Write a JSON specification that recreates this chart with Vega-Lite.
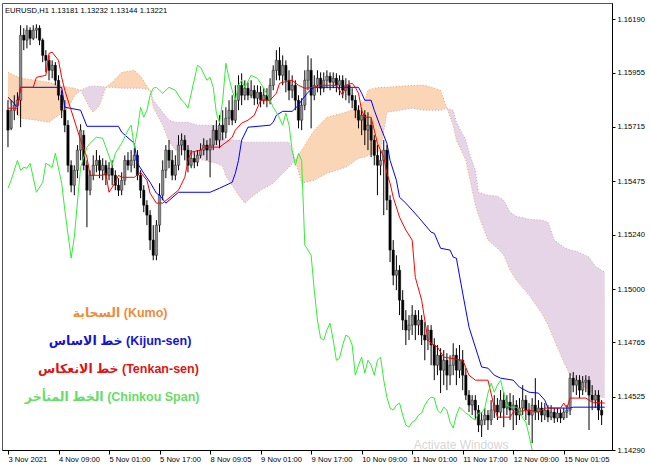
{
"$schema": "https://vega.github.io/schema/vega-lite/v6.json",
"width": 610, "height": 447,
"padding": {"left": 2, "top": 3, "right": 0, "bottom": 0},
"background": "white",
"title": {"text": "EURUSD,H1  1.13181 1.13232 1.13144 1.13221", "anchor": "start", "frame": "group", "offset": -12, "dx": 3, "fontSize": 7.6, "font": "Liberation Sans", "fontWeight": "normal", "color": "black"},
"config": {"view": {"stroke": "#555", "strokeWidth": 1}, "axis": {"grid": false, "labelFont": "Liberation Sans", "labelFontSize": 7.6, "labelColor": "black", "domainColor": "black", "tickColor": "black"}},
"datasets": {
"candles": [
{"i":0,"o":1.15789,"h":1.15833,"l":1.15626,"c":1.15701},
{"i":1,"o":1.15709,"h":1.15833,"l":1.15701,"c":1.15789},
{"i":2,"o":1.15789,"h":1.15855,"l":1.15745,"c":1.15811},
{"i":3,"o":1.15811,"h":1.15868,"l":1.15767,"c":1.15833},
{"i":4,"o":1.15833,"h":1.16164,"l":1.15714,"c":1.16120},
{"i":5,"o":1.16120,"h":1.16151,"l":1.16054,"c":1.16098},
{"i":6,"o":1.16098,"h":1.16164,"l":1.16062,"c":1.16142},
{"i":7,"o":1.16142,"h":1.16155,"l":1.16076,"c":1.16106},
{"i":8,"o":1.16106,"h":1.16164,"l":1.16098,"c":1.16142},
{"i":9,"o":1.16142,"h":1.16168,"l":1.16106,"c":1.16151},
{"i":10,"o":1.16151,"h":1.16164,"l":1.16076,"c":1.16098},
{"i":11,"o":1.16098,"h":1.16106,"l":1.16001,"c":1.16031},
{"i":12,"o":1.16031,"h":1.16054,"l":1.15956,"c":1.16009},
{"i":13,"o":1.16009,"h":1.16031,"l":1.15921,"c":1.15965},
{"i":14,"o":1.15965,"h":1.16009,"l":1.15930,"c":1.15987},
{"i":15,"o":1.15987,"h":1.16001,"l":1.15899,"c":1.15921},
{"i":16,"o":1.15921,"h":1.15943,"l":1.15833,"c":1.15855},
{"i":17,"o":1.15855,"h":1.15877,"l":1.15754,"c":1.15789},
{"i":18,"o":1.15789,"h":1.15833,"l":1.15692,"c":1.15723},
{"i":19,"o":1.15723,"h":1.15745,"l":1.15515,"c":1.15546},
{"i":20,"o":1.15546,"h":1.15568,"l":1.15427,"c":1.15458},
{"i":21,"o":1.15458,"h":1.15546,"l":1.15414,"c":1.15524},
{"i":22,"o":1.15524,"h":1.15635,"l":1.15489,"c":1.15613},
{"i":23,"o":1.15613,"h":1.15727,"l":1.15568,"c":1.15701},
{"i":24,"o":1.15679,"h":1.15701,"l":1.15524,"c":1.15546},
{"i":25,"o":1.15546,"h":1.15568,"l":1.15273,"c":1.15436},
{"i":26,"o":1.15436,"h":1.15524,"l":1.15414,"c":1.15502},
{"i":27,"o":1.15502,"h":1.15590,"l":1.15480,"c":1.15546},
{"i":28,"o":1.15546,"h":1.15613,"l":1.15515,"c":1.15568},
{"i":29,"o":1.15568,"h":1.15590,"l":1.15489,"c":1.15524},
{"i":30,"o":1.15524,"h":1.15577,"l":1.15480,"c":1.15546},
{"i":31,"o":1.15546,"h":1.15568,"l":1.15458,"c":1.15502},
{"i":32,"o":1.15502,"h":1.15560,"l":1.15480,"c":1.15533},
{"i":33,"o":1.15533,"h":1.15568,"l":1.15458,"c":1.15502},
{"i":34,"o":1.15502,"h":1.15524,"l":1.15436,"c":1.15458},
{"i":35,"o":1.15458,"h":1.15489,"l":1.15410,"c":1.15436},
{"i":36,"o":1.15436,"h":1.15515,"l":1.15414,"c":1.15480},
{"i":37,"o":1.15480,"h":1.15590,"l":1.15458,"c":1.15568},
{"i":38,"o":1.15568,"h":1.15604,"l":1.15524,"c":1.15546},
{"i":39,"o":1.15546,"h":1.15613,"l":1.15515,"c":1.15568},
{"i":40,"o":1.15568,"h":1.15621,"l":1.15533,"c":1.15590},
{"i":41,"o":1.15590,"h":1.15613,"l":1.15480,"c":1.15502},
{"i":42,"o":1.15502,"h":1.15524,"l":1.15401,"c":1.15436},
{"i":43,"o":1.15436,"h":1.15458,"l":1.15339,"c":1.15370},
{"i":44,"o":1.15370,"h":1.15392,"l":1.15282,"c":1.15326},
{"i":45,"o":1.15326,"h":1.15348,"l":1.15172,"c":1.15216},
{"i":46,"o":1.15216,"h":1.15282,"l":1.15127,"c":1.15149},
{"i":47,"o":1.15149,"h":1.15304,"l":1.15127,"c":1.15282},
{"i":48,"o":1.15282,"h":1.15467,"l":1.15251,"c":1.15414},
{"i":49,"o":1.15414,"h":1.15568,"l":1.15392,"c":1.15524},
{"i":50,"o":1.15524,"h":1.15635,"l":1.15489,"c":1.15613},
{"i":51,"o":1.15613,"h":1.15657,"l":1.15533,"c":1.15568},
{"i":52,"o":1.15568,"h":1.15613,"l":1.15480,"c":1.15502},
{"i":53,"o":1.15502,"h":1.15590,"l":1.15480,"c":1.15546},
{"i":54,"o":1.15546,"h":1.15679,"l":1.15524,"c":1.15635},
{"i":55,"o":1.15635,"h":1.15687,"l":1.15590,"c":1.15657},
{"i":56,"o":1.15657,"h":1.15679,"l":1.15568,"c":1.15613},
{"i":57,"o":1.15613,"h":1.15635,"l":1.15515,"c":1.15546},
{"i":58,"o":1.15546,"h":1.15613,"l":1.15533,"c":1.15577},
{"i":59,"o":1.15577,"h":1.15604,"l":1.15533,"c":1.15560},
{"i":60,"o":1.15560,"h":1.15613,"l":1.15542,"c":1.15590},
{"i":61,"o":1.15590,"h":1.15643,"l":1.15577,"c":1.15613},
{"i":62,"o":1.15613,"h":1.15665,"l":1.15590,"c":1.15635},
{"i":63,"o":1.15635,"h":1.15657,"l":1.15568,"c":1.15613},
{"i":64,"o":1.15613,"h":1.15665,"l":1.15493,"c":1.15635},
{"i":65,"o":1.15635,"h":1.15723,"l":1.15613,"c":1.15701},
{"i":66,"o":1.15701,"h":1.15745,"l":1.15635,"c":1.15657},
{"i":67,"o":1.15657,"h":1.15767,"l":1.15621,"c":1.15723},
{"i":68,"o":1.15723,"h":1.15789,"l":1.15657,"c":1.15692},
{"i":69,"o":1.15692,"h":1.15802,"l":1.15665,"c":1.15754},
{"i":70,"o":1.15754,"h":1.15833,"l":1.15723,"c":1.15789},
{"i":71,"o":1.15789,"h":1.15855,"l":1.15723,"c":1.15745},
{"i":72,"o":1.15745,"h":1.15899,"l":1.15732,"c":1.15833},
{"i":73,"o":1.15833,"h":1.15943,"l":1.15789,"c":1.15899},
{"i":74,"o":1.15899,"h":1.15952,"l":1.15811,"c":1.15855},
{"i":75,"o":1.15855,"h":1.15921,"l":1.15833,"c":1.15886},
{"i":76,"o":1.15886,"h":1.15912,"l":1.15833,"c":1.15855},
{"i":77,"o":1.15855,"h":1.15921,"l":1.15842,"c":1.15877},
{"i":78,"o":1.15877,"h":1.15899,"l":1.15811,"c":1.15842},
{"i":79,"o":1.15842,"h":1.15899,"l":1.15815,"c":1.15868},
{"i":80,"o":1.15868,"h":1.15895,"l":1.15802,"c":1.15833},
{"i":81,"o":1.15833,"h":1.15886,"l":1.15815,"c":1.15855},
{"i":82,"o":1.15855,"h":1.15886,"l":1.15802,"c":1.15833},
{"i":83,"o":1.15833,"h":1.15930,"l":1.15815,"c":1.15899},
{"i":84,"o":1.15899,"h":1.15987,"l":1.15877,"c":1.15965},
{"i":85,"o":1.15965,"h":1.16054,"l":1.15921,"c":1.16009},
{"i":86,"o":1.16009,"h":1.16067,"l":1.15921,"c":1.15943},
{"i":87,"o":1.15943,"h":1.16031,"l":1.15899,"c":1.15987},
{"i":88,"o":1.15987,"h":1.16009,"l":1.15868,"c":1.15921},
{"i":89,"o":1.15921,"h":1.15965,"l":1.15833,"c":1.15877},
{"i":90,"o":1.15877,"h":1.15943,"l":1.15842,"c":1.15899},
{"i":91,"o":1.15899,"h":1.15921,"l":1.15789,"c":1.15833},
{"i":92,"o":1.15833,"h":1.15855,"l":1.15709,"c":1.15745},
{"i":93,"o":1.15745,"h":1.15842,"l":1.15701,"c":1.15811},
{"i":94,"o":1.15811,"h":1.15965,"l":1.15789,"c":1.15921},
{"i":95,"o":1.15921,"h":1.16031,"l":1.15877,"c":1.15965},
{"i":96,"o":1.15965,"h":1.16018,"l":1.15709,"c":1.15855},
{"i":97,"o":1.15855,"h":1.15943,"l":1.15833,"c":1.15899},
{"i":98,"o":1.15899,"h":1.15965,"l":1.15868,"c":1.15930},
{"i":99,"o":1.15930,"h":1.15956,"l":1.15855,"c":1.15886},
{"i":100,"o":1.15886,"h":1.15956,"l":1.15868,"c":1.15921},
{"i":101,"o":1.15921,"h":1.15965,"l":1.15886,"c":1.15939},
{"i":102,"o":1.15939,"h":1.15956,"l":1.15877,"c":1.15912},
{"i":103,"o":1.15912,"h":1.15956,"l":1.15886,"c":1.15930},
{"i":104,"o":1.15930,"h":1.15952,"l":1.15868,"c":1.15899},
{"i":105,"o":1.15899,"h":1.15943,"l":1.15855,"c":1.15921},
{"i":106,"o":1.15921,"h":1.15943,"l":1.15842,"c":1.15877},
{"i":107,"o":1.15877,"h":1.15930,"l":1.15833,"c":1.15899},
{"i":108,"o":1.15899,"h":1.15921,"l":1.15820,"c":1.15855},
{"i":109,"o":1.15855,"h":1.15886,"l":1.15798,"c":1.15833},
{"i":110,"o":1.15833,"h":1.15855,"l":1.15754,"c":1.15789},
{"i":111,"o":1.15789,"h":1.15811,"l":1.15709,"c":1.15745},
{"i":112,"o":1.15745,"h":1.15798,"l":1.15679,"c":1.15767},
{"i":113,"o":1.15767,"h":1.15789,"l":1.15635,"c":1.15701},
{"i":114,"o":1.15701,"h":1.15780,"l":1.15613,"c":1.15723},
{"i":115,"o":1.15723,"h":1.15754,"l":1.15582,"c":1.15657},
{"i":116,"o":1.15657,"h":1.15679,"l":1.15546,"c":1.15590},
{"i":117,"o":1.15590,"h":1.15635,"l":1.15414,"c":1.15546},
{"i":118,"o":1.15546,"h":1.15613,"l":1.15502,"c":1.15568},
{"i":119,"o":1.15568,"h":1.15657,"l":1.15326,"c":1.15613},
{"i":120,"o":1.15613,"h":1.15635,"l":1.15348,"c":1.15392},
{"i":121,"o":1.15392,"h":1.15414,"l":1.15119,"c":1.15172},
{"i":122,"o":1.15172,"h":1.15216,"l":1.15017,"c":1.15061},
{"i":123,"o":1.15061,"h":1.15149,"l":1.14995,"c":1.15083},
{"i":124,"o":1.15083,"h":1.15105,"l":1.14885,"c":1.14951},
{"i":125,"o":1.14951,"h":1.14995,"l":1.14819,"c":1.14863},
{"i":126,"o":1.14863,"h":1.14907,"l":1.14753,"c":1.14819},
{"i":127,"o":1.14819,"h":1.14885,"l":1.14775,"c":1.14841},
{"i":128,"o":1.14841,"h":1.14929,"l":1.14797,"c":1.14885},
{"i":129,"o":1.14885,"h":1.14907,"l":1.14775,"c":1.14841},
{"i":130,"o":1.14841,"h":1.14907,"l":1.14797,"c":1.14863},
{"i":131,"o":1.14863,"h":1.14885,"l":1.14753,"c":1.14797},
{"i":132,"o":1.14797,"h":1.14854,"l":1.14686,"c":1.14775},
{"i":133,"o":1.14775,"h":1.14841,"l":1.14731,"c":1.14819},
{"i":134,"o":1.14819,"h":1.14841,"l":1.14664,"c":1.14753},
{"i":135,"o":1.14753,"h":1.14783,"l":1.14598,"c":1.14664},
{"i":136,"o":1.14664,"h":1.14753,"l":1.14620,"c":1.14708},
{"i":137,"o":1.14708,"h":1.14739,"l":1.14541,"c":1.14642},
{"i":138,"o":1.14642,"h":1.14731,"l":1.14576,"c":1.14686},
{"i":139,"o":1.14686,"h":1.14717,"l":1.14554,"c":1.14620},
{"i":140,"o":1.14620,"h":1.14708,"l":1.14576,"c":1.14664},
{"i":141,"o":1.14664,"h":1.14761,"l":1.14620,"c":1.14708},
{"i":142,"o":1.14708,"h":1.14739,"l":1.14576,"c":1.14642},
{"i":143,"o":1.14642,"h":1.14753,"l":1.14607,"c":1.14686},
{"i":144,"o":1.14686,"h":1.14731,"l":1.14554,"c":1.14620},
{"i":145,"o":1.14620,"h":1.14651,"l":1.14510,"c":1.14532},
{"i":146,"o":1.14532,"h":1.14554,"l":1.14457,"c":1.14488},
{"i":147,"o":1.14488,"h":1.14532,"l":1.14444,"c":1.14510},
{"i":148,"o":1.14510,"h":1.14532,"l":1.14422,"c":1.14466},
{"i":149,"o":1.14466,"h":1.14488,"l":1.14369,"c":1.14400},
{"i":150,"o":1.14400,"h":1.14457,"l":1.14347,"c":1.14422},
{"i":151,"o":1.14422,"h":1.14475,"l":1.14400,"c":1.14444},
{"i":152,"o":1.14444,"h":1.14466,"l":1.14378,"c":1.14422},
{"i":153,"o":1.14422,"h":1.14510,"l":1.14400,"c":1.14466},
{"i":154,"o":1.14466,"h":1.14532,"l":1.14431,"c":1.14488},
{"i":155,"o":1.14488,"h":1.14519,"l":1.14422,"c":1.14457},
{"i":156,"o":1.14457,"h":1.14554,"l":1.14431,"c":1.14510},
{"i":157,"o":1.14510,"h":1.14545,"l":1.14391,"c":1.14475},
{"i":158,"o":1.14475,"h":1.14532,"l":1.14444,"c":1.14501},
{"i":159,"o":1.14501,"h":1.14541,"l":1.14422,"c":1.14466},
{"i":160,"o":1.14466,"h":1.14532,"l":1.14378,"c":1.14488},
{"i":161,"o":1.14488,"h":1.14510,"l":1.14400,"c":1.14444},
{"i":162,"o":1.14444,"h":1.14519,"l":1.14422,"c":1.14475},
{"i":163,"o":1.14475,"h":1.14576,"l":1.14444,"c":1.14510},
{"i":164,"o":1.14510,"h":1.14532,"l":1.14422,"c":1.14466},
{"i":165,"o":1.14466,"h":1.14497,"l":1.14400,"c":1.14444},
{"i":166,"o":1.14444,"h":1.14519,"l":1.14320,"c":1.14488},
{"i":167,"o":1.14488,"h":1.14607,"l":1.14422,"c":1.14457},
{"i":168,"o":1.14457,"h":1.14510,"l":1.14422,"c":1.14475},
{"i":169,"o":1.14475,"h":1.14501,"l":1.14413,"c":1.14444},
{"i":170,"o":1.14444,"h":1.14497,"l":1.14422,"c":1.14466},
{"i":171,"o":1.14466,"h":1.14488,"l":1.14413,"c":1.14435},
{"i":172,"o":1.14435,"h":1.14488,"l":1.14422,"c":1.14457},
{"i":173,"o":1.14457,"h":1.14475,"l":1.14409,"c":1.14431},
{"i":174,"o":1.14431,"h":1.14475,"l":1.14413,"c":1.14453},
{"i":175,"o":1.14453,"h":1.14470,"l":1.14409,"c":1.14431},
{"i":176,"o":1.14431,"h":1.14475,"l":1.14422,"c":1.14457},
{"i":177,"o":1.14457,"h":1.14488,"l":1.14431,"c":1.14466},
{"i":178,"o":1.14466,"h":1.14629,"l":1.14444,"c":1.14607},
{"i":179,"o":1.14607,"h":1.14634,"l":1.14545,"c":1.14576},
{"i":180,"o":1.14576,"h":1.14620,"l":1.14532,"c":1.14598},
{"i":181,"o":1.14598,"h":1.14620,"l":1.14519,"c":1.14554},
{"i":182,"o":1.14554,"h":1.14616,"l":1.14532,"c":1.14589},
{"i":183,"o":1.14589,"h":1.14620,"l":1.14545,"c":1.14598},
{"i":184,"o":1.14598,"h":1.14616,"l":1.14378,"c":1.14532},
{"i":185,"o":1.14532,"h":1.14576,"l":1.14466,"c":1.14510},
{"i":186,"o":1.14510,"h":1.14554,"l":1.14475,"c":1.14532},
{"i":187,"o":1.14532,"h":1.14554,"l":1.14422,"c":1.14466},
{"i":188,"o":1.14466,"h":1.14510,"l":1.14400,"c":1.14444}
],
"tenkan": [
{"i":0,"v":1.15798},{"i":3,"v":1.15798},{"i":4,"v":1.15890},{"i":8,"v":1.15890},{"i":9,"v":1.15934},{"i":12,"v":1.15943},{"i":13,"v":1.16040},{"i":14,"v":1.16045},{"i":16,"v":1.16009},{"i":17,"v":1.15934},{"i":18,"v":1.15877},{"i":20,"v":1.15789},{"i":23,"v":1.15657},{"i":25,"v":1.15582},{"i":26,"v":1.15502},{"i":30,"v":1.15502},{"i":31,"v":1.15511},{"i":32,"v":1.15427},{"i":34,"v":1.15471},{"i":35,"v":1.15502},{"i":36,"v":1.15493},{"i":40,"v":1.15493},{"i":42,"v":1.15515},{"i":44,"v":1.15480},{"i":45,"v":1.15423},{"i":47,"v":1.15379},{"i":49,"v":1.15379},{"i":54,"v":1.15436},{"i":56,"v":1.15493},{"i":57,"v":1.15568},{"i":58,"v":1.15604},{"i":61,"v":1.15613},{"i":62,"v":1.15626},{"i":67,"v":1.15626},{"i":70,"v":1.15657},{"i":71,"v":1.15670},{"i":72,"v":1.15701},{"i":74,"v":1.15732},{"i":76,"v":1.15745},{"i":78,"v":1.15767},{"i":80,"v":1.15833},{"i":83,"v":1.15833},{"i":85,"v":1.15864},{"i":86,"v":1.15908},{"i":87,"v":1.15912},{"i":90,"v":1.15921},{"i":92,"v":1.15899},{"i":94,"v":1.15886},{"i":97,"v":1.15890},{"i":99,"v":1.15899},{"i":104,"v":1.15899},{"i":106,"v":1.15855},{"i":107,"v":1.15899},{"i":109,"v":1.15908},{"i":110,"v":1.15890},{"i":111,"v":1.15864},{"i":112,"v":1.15789},{"i":113,"v":1.15758},{"i":115,"v":1.15758},{"i":116,"v":1.15701},{"i":117,"v":1.15643},{"i":119,"v":1.15582},{"i":120,"v":1.15511},{"i":121,"v":1.15467},{"i":122,"v":1.15405},{"i":124,"v":1.15317},{"i":126,"v":1.15260},{"i":128,"v":1.15216},{"i":129,"v":1.15052},{"i":131,"v":1.14951},{"i":132,"v":1.14863},{"i":133,"v":1.14775},{"i":134,"v":1.14761},{"i":136,"v":1.14744},{"i":138,"v":1.14700},{"i":144,"v":1.14686},{"i":146,"v":1.14620},{"i":148,"v":1.14598},{"i":152,"v":1.14598},{"i":154,"v":1.14479},{"i":155,"v":1.14435},{"i":159,"v":1.14435},{"i":160,"v":1.14457},{"i":165,"v":1.14466},{"i":168,"v":1.14457},{"i":170,"v":1.14475},{"i":175,"v":1.14475},{"i":176,"v":1.14497},{"i":177,"v":1.14475},{"i":178,"v":1.14519},{"i":183,"v":1.14519},{"i":185,"v":1.14501},{"i":189,"v":1.14497}
],
"kijun": [
{"i":0,"v":1.15846},{"i":1,"v":1.15833},{"i":3,"v":1.15802},{"i":4,"v":1.15890},{"i":17,"v":1.15890},{"i":18,"v":1.15802},{"i":23,"v":1.15789},{"i":25,"v":1.15718},{"i":35,"v":1.15718},{"i":36,"v":1.15692},{"i":40,"v":1.15643},{"i":41,"v":1.15555},{"i":43,"v":1.15511},{"i":45,"v":1.15471},{"i":47,"v":1.15423},{"i":48,"v":1.15414},{"i":50,"v":1.15379},{"i":54,"v":1.15427},{"i":64,"v":1.15427},{"i":67,"v":1.15445},{"i":71,"v":1.15471},{"i":72,"v":1.15511},{"i":73,"v":1.15568},{"i":74,"v":1.15657},{"i":76,"v":1.15714},{"i":83,"v":1.15723},{"i":84,"v":1.15736},{"i":85,"v":1.15767},{"i":87,"v":1.15784},{"i":90,"v":1.15784},{"i":92,"v":1.15811},{"i":93,"v":1.15833},{"i":95,"v":1.15868},{"i":97,"v":1.15890},{"i":111,"v":1.15890},{"i":112,"v":1.15864},{"i":113,"v":1.15833},{"i":115,"v":1.15833},{"i":116,"v":1.15789},{"i":118,"v":1.15714},{"i":120,"v":1.15643},{"i":121,"v":1.15568},{"i":123,"v":1.15480},{"i":124,"v":1.15405},{"i":126,"v":1.15379},{"i":128,"v":1.15348},{"i":130,"v":1.15317},{"i":134,"v":1.15251},{"i":135,"v":1.15246},{"i":137,"v":1.15180},{"i":140,"v":1.15172},{"i":141,"v":1.15141},{"i":142,"v":1.15136},{"i":144,"v":1.14982},{"i":146,"v":1.14832},{"i":148,"v":1.14744},{"i":150,"v":1.14656},{"i":152,"v":1.14651},{"i":154,"v":1.14620},{"i":156,"v":1.14607},{"i":160,"v":1.14598},{"i":162,"v":1.14567},{"i":165,"v":1.14545},{"i":168,"v":1.14541},{"i":170,"v":1.14510},{"i":171,"v":1.14475},{"i":178,"v":1.14475},{"i":179,"v":1.14479},{"i":189,"v":1.14479}
],
"chikou": [
{"i":0,"v":1.15445},{"i":1,"v":1.15480},{"i":3,"v":1.15568},{"i":4,"v":1.15524},{"i":5,"v":1.15537},{"i":6,"v":1.15533},{"i":7,"v":1.15555},{"i":9,"v":1.15427},{"i":11,"v":1.15471},{"i":12,"v":1.15555},{"i":14,"v":1.15537},{"i":15,"v":1.15599},{"i":17,"v":1.15467},{"i":18,"v":1.15348},{"i":20,"v":1.15136},{"i":21,"v":1.15229},{"i":23,"v":1.15537},{"i":25,"v":1.15626},{"i":26,"v":1.15643},{"i":28,"v":1.15670},{"i":30,"v":1.15665},{"i":31,"v":1.15626},{"i":33,"v":1.15546},{"i":34,"v":1.15599},{"i":36,"v":1.15643},{"i":38,"v":1.15701},{"i":39,"v":1.15723},{"i":40,"v":1.15626},{"i":41,"v":1.15701},{"i":42,"v":1.15802},{"i":43,"v":1.15758},{"i":44,"v":1.15789},{"i":45,"v":1.15855},{"i":46,"v":1.15886},{"i":47,"v":1.15890},{"i":48,"v":1.15877},{"i":49,"v":1.15864},{"i":51,"v":1.15890},{"i":53,"v":1.15877},{"i":55,"v":1.15833},{"i":56,"v":1.15820},{"i":57,"v":1.15798},{"i":60,"v":1.15987},{"i":61,"v":1.15978},{"i":63,"v":1.15921},{"i":64,"v":1.15934},{"i":65,"v":1.15890},{"i":66,"v":1.15776},{"i":67,"v":1.15732},{"i":68,"v":1.15833},{"i":69,"v":1.15996},{"i":70,"v":1.15930},{"i":71,"v":1.15877},{"i":72,"v":1.15833},{"i":73,"v":1.15899},{"i":74,"v":1.15921},{"i":75,"v":1.15890},{"i":77,"v":1.15943},{"i":79,"v":1.15930},{"i":80,"v":1.15908},{"i":81,"v":1.15886},{"i":83,"v":1.15833},{"i":84,"v":1.15802},{"i":85,"v":1.15780},{"i":86,"v":1.15754},{"i":87,"v":1.15723},{"i":88,"v":1.15776},{"i":89,"v":1.15723},{"i":90,"v":1.15613},{"i":91,"v":1.15546},{"i":92,"v":1.15599},{"i":93,"v":1.15568},{"i":94,"v":1.15194},{"i":95,"v":1.15172},{"i":96,"v":1.15149},{"i":97,"v":1.14995},{"i":98,"v":1.14863},{"i":99,"v":1.14783},{"i":100,"v":1.14775},{"i":101,"v":1.14819},{"i":102,"v":1.14850},{"i":103,"v":1.14775},{"i":104,"v":1.14686},{"i":105,"v":1.14695},{"i":106,"v":1.14753},{"i":107,"v":1.14797},{"i":108,"v":1.14788},{"i":109,"v":1.14753},{"i":110,"v":1.14620},{"i":111,"v":1.14664},{"i":112,"v":1.14700},{"i":113,"v":1.14629},{"i":114,"v":1.14686},{"i":115,"v":1.14664},{"i":116,"v":1.14620},{"i":117,"v":1.14686},{"i":118,"v":1.14700},{"i":119,"v":1.14598},{"i":120,"v":1.14523},{"i":121,"v":1.14475},{"i":122,"v":1.14466},{"i":123,"v":1.14488},{"i":124,"v":1.14497},{"i":125,"v":1.14444},{"i":126,"v":1.14400},{"i":127,"v":1.14391},{"i":128,"v":1.14413},{"i":129,"v":1.14422},{"i":130,"v":1.14444},{"i":131,"v":1.14453},{"i":132,"v":1.14488},{"i":133,"v":1.14510},{"i":134,"v":1.14523},{"i":135,"v":1.14519},{"i":136,"v":1.14466},{"i":137,"v":1.14453},{"i":138,"v":1.14479},{"i":139,"v":1.14466},{"i":140,"v":1.14413},{"i":141,"v":1.14387},{"i":142,"v":1.14444},{"i":143,"v":1.14479},{"i":144,"v":1.14466},{"i":145,"v":1.14453},{"i":146,"v":1.14444},{"i":147,"v":1.14431},{"i":148,"v":1.14422},{"i":149,"v":1.14453},{"i":150,"v":1.14453},{"i":151,"v":1.14475},{"i":152,"v":1.14541},{"i":153,"v":1.14585},{"i":154,"v":1.14545},{"i":155,"v":1.14576},{"i":156,"v":1.14598},{"i":157,"v":1.14541},{"i":158,"v":1.14488},{"i":159,"v":1.14479},{"i":160,"v":1.14479},{"i":161,"v":1.14479},{"i":162,"v":1.14466},{"i":163,"v":1.14431},{"i":164,"v":1.14413},{"i":165,"v":1.14356},{"i":166,"v":1.14290}
],
"kumo": [
{"i":0,"a":1.15956,"b":1.15833,"s":1,"k":"up"},{"i":4,"a":1.15930,"b":1.15754,"s":1,"k":"up"},{"i":9,"a":1.15921,"b":1.15745,"s":1,"k":"up"},{"i":13,"a":1.15912,"b":1.15736,"s":1,"k":"up"},{"i":16,"a":1.15899,"b":1.15767,"s":1,"k":"up"},{"i":19,"a":1.15890,"b":1.15798,"s":1,"k":"up"},{"i":21,"a":1.15886,"b":1.15851,"s":1,"k":"up"},{"i":23,"a":1.15877,"b":1.15877,"s":1,"k":"up"},
{"i":23,"a":1.15877,"b":1.15877,"s":2,"k":"dn"},{"i":26,"a":1.15798,"b":1.15895,"s":2,"k":"dn"},{"i":27,"a":1.15780,"b":1.15895,"s":2,"k":"dn"},{"i":29,"a":1.15811,"b":1.15895,"s":2,"k":"dn"},{"i":31,"a":1.15890,"b":1.15890,"s":2,"k":"dn"},
{"i":31,"a":1.15890,"b":1.15890,"s":3,"k":"up"},{"i":33,"a":1.15912,"b":1.15890,"s":3,"k":"up"},{"i":36,"a":1.15956,"b":1.15886,"s":3,"k":"up"},{"i":40,"a":1.15965,"b":1.15886,"s":3,"k":"up"},{"i":42,"a":1.15939,"b":1.15886,"s":3,"k":"up"},{"i":44,"a":1.15895,"b":1.15881,"s":3,"k":"up"},{"i":45,"a":1.15877,"b":1.15877,"s":3,"k":"up"},
{"i":45,"a":1.15877,"b":1.15877,"s":4,"k":"dn"},{"i":46,"a":1.15802,"b":1.15833,"s":4,"k":"dn"},{"i":49,"a":1.15723,"b":1.15780,"s":4,"k":"dn"},{"i":51,"a":1.15652,"b":1.15745,"s":4,"k":"dn"},{"i":53,"a":1.15613,"b":1.15736,"s":4,"k":"dn"},{"i":57,"a":1.15613,"b":1.15736,"s":4,"k":"dn"},{"i":60,"a":1.15577,"b":1.15723,"s":4,"k":"dn"},{"i":62,"a":1.15568,"b":1.15723,"s":4,"k":"dn"},{"i":66,"a":1.15555,"b":1.15723,"s":4,"k":"dn"},{"i":68,"a":1.15542,"b":1.15670,"s":4,"k":"dn"},{"i":69,"a":1.15498,"b":1.15657,"s":4,"k":"dn"},{"i":71,"a":1.15458,"b":1.15657,"s":4,"k":"dn"},{"i":73,"a":1.15414,"b":1.15657,"s":4,"k":"dn"},{"i":75,"a":1.15379,"b":1.15648,"s":4,"k":"dn"},{"i":77,"a":1.15405,"b":1.15648,"s":4,"k":"dn"},{"i":80,"a":1.15436,"b":1.15648,"s":4,"k":"dn"},{"i":84,"a":1.15467,"b":1.15648,"s":4,"k":"dn"},{"i":87,"a":1.15511,"b":1.15648,"s":4,"k":"dn"},{"i":89,"a":1.15537,"b":1.15648,"s":4,"k":"dn"},{"i":91,"a":1.15568,"b":1.15568,"s":4,"k":"dn"},
{"i":91,"a":1.15568,"b":1.15568,"s":5,"k":"up"},{"i":93,"a":1.15613,"b":1.15467,"s":5,"k":"up"},{"i":97,"a":1.15701,"b":1.15480,"s":5,"k":"up"},{"i":101,"a":1.15758,"b":1.15511,"s":5,"k":"up"},{"i":107,"a":1.15780,"b":1.15537,"s":5,"k":"up"},{"i":111,"a":1.15802,"b":1.15577,"s":5,"k":"up"},{"i":113,"a":1.15833,"b":1.15582,"s":5,"k":"up"},{"i":114,"a":1.15877,"b":1.15590,"s":5,"k":"up"},{"i":116,"a":1.15886,"b":1.15599,"s":5,"k":"up"},{"i":118,"a":1.15890,"b":1.15613,"s":5,"k":"up"},{"i":120,"a":1.15890,"b":1.15780,"s":5,"k":"up"},{"i":128,"a":1.15899,"b":1.15798,"s":5,"k":"up"},{"i":132,"a":1.15899,"b":1.15789,"s":5,"k":"up"},{"i":137,"a":1.15877,"b":1.15789,"s":5,"k":"up"},{"i":139,"a":1.15798,"b":1.15798,"s":5,"k":"up"},
{"i":139,"a":1.15798,"b":1.15798,"s":6,"k":"dn"},{"i":141,"a":1.15723,"b":1.15789,"s":6,"k":"dn"},{"i":142,"a":1.15657,"b":1.15736,"s":6,"k":"dn"},{"i":145,"a":1.15568,"b":1.15657,"s":6,"k":"dn"},{"i":146,"a":1.15502,"b":1.15604,"s":6,"k":"dn"},{"i":148,"a":1.15370,"b":1.15524,"s":6,"k":"dn"},{"i":149,"a":1.15326,"b":1.15427,"s":6,"k":"dn"},{"i":152,"a":1.15216,"b":1.15414,"s":6,"k":"dn"},{"i":155,"a":1.15180,"b":1.15410,"s":6,"k":"dn"},{"i":157,"a":1.15149,"b":1.15392,"s":6,"k":"dn"},{"i":159,"a":1.15083,"b":1.15339,"s":6,"k":"dn"},{"i":161,"a":1.15039,"b":1.15321,"s":6,"k":"dn"},{"i":165,"a":1.14973,"b":1.15308,"s":6,"k":"dn"},{"i":169,"a":1.14894,"b":1.15304,"s":6,"k":"dn"},{"i":171,"a":1.14841,"b":1.15295,"s":6,"k":"dn"},{"i":173,"a":1.14775,"b":1.15216,"s":6,"k":"dn"},{"i":176,"a":1.14678,"b":1.15185,"s":6,"k":"dn"},{"i":178,"a":1.14620,"b":1.15172,"s":6,"k":"dn"},{"i":180,"a":1.14598,"b":1.15167,"s":6,"k":"dn"},{"i":184,"a":1.14554,"b":1.15141,"s":6,"k":"dn"},{"i":186,"a":1.14532,"b":1.15101,"s":6,"k":"dn"},{"i":189,"a":1.14519,"b":1.15074,"s":6,"k":"dn"}
]
},
"layer": [
{"data": {"name": "kumo"}, "mark": {"type": "area", "opacity": 0.45, "interpolate": "linear"},
 "encoding": {
  "x": {"field": "i", "type": "quantitative", "title": null,
   "scale": {"domain": [-0.31, 189.7], "nice": false, "zero": false},
   "axis": {"orient": "bottom", "values": [0,16,32,48,64,80,96,112,128,144,160,176], "labelAlign": "left", "labelBaseline": "top", "labelPadding": 1, "tickSize": 4, "labelFlush": false, "labelOverlap": false,
    "labelExpr": "['3 Nov 2021','4 Nov 09:00','5 Nov 01:00','5 Nov 17:00','8 Nov 09:05','9 Nov 01:00','9 Nov 17:00','10 Nov 09:00','11 Nov 01:00','11 Nov 17:00','12 Nov 09:00','15 Nov 01:05'][round(datum.value/16)]"}},
  "y": {"field": "a", "type": "quantitative", "title": null,
   "scale": {"domain": [1.14290, 1.16262], "nice": false, "zero": false},
   "axis": {"orient": "right", "values": [1.16190,1.16070,1.15955,1.15835,1.15715,1.15595,1.15475,1.15360,1.15240,1.15120,1.15000,1.14880,1.14765,1.14645,1.14525,1.14405,1.14290], "format": ".5f", "tickSize": 3, "labelPadding": 2, "labelOverlap": false, "labelFlush": false}},
  "y2": {"field": "b"},
  "color": {"field": "k", "type": "nominal", "scale": {"domain": ["up", "dn"], "range": ["#F4A460", "#C8A2C8"]}, "legend": null},
  "detail": {"field": "s", "type": "nominal"}}},
{"data": {"name": "kumo"}, "mark": {"type": "line", "color": "#F4A460", "strokeWidth": 1, "strokeDash": [1, 2]},
 "encoding": {"x": {"field": "i", "type": "quantitative", "title": null}, "y": {"field": "a", "type": "quantitative", "title": null}}},
{"data": {"name": "kumo"}, "mark": {"type": "line", "color": "#C8A2C8", "strokeWidth": 1, "strokeDash": [1, 2]},
 "encoding": {"x": {"field": "i", "type": "quantitative", "title": null}, "y": {"field": "b", "type": "quantitative", "title": null}}},
{"data": {"name": "candles"}, "mark": {"type": "rule", "color": "black", "strokeWidth": 1},
 "encoding": {"x": {"field": "i", "type": "quantitative", "title": null}, "y": {"field": "l", "type": "quantitative", "title": null}, "y2": {"field": "h"}}},
{"data": {"name": "candles"}, "mark": {"type": "bar", "width": 2.4, "stroke": "black", "strokeWidth": 0.4},
 "encoding": {"x": {"field": "i", "type": "quantitative", "title": null}, "y": {"field": "o", "type": "quantitative", "title": null}, "y2": {"field": "c"},
  "color": {"condition": {"test": "datum.c > datum.o", "value": "#8c8c8c"}, "value": "black"}}},
{"data": {"name": "kijun"}, "mark": {"type": "line", "color": "#0000FF", "strokeWidth": 1},
 "encoding": {"x": {"field": "i", "type": "quantitative", "title": null}, "y": {"field": "v", "type": "quantitative", "title": null}}},
{"data": {"name": "tenkan"}, "mark": {"type": "line", "color": "#FF0000", "strokeWidth": 1},
 "encoding": {"x": {"field": "i", "type": "quantitative", "title": null}, "y": {"field": "v", "type": "quantitative", "title": null}}},
{"data": {"name": "chikou"}, "mark": {"type": "line", "color": "#33EE33", "strokeWidth": 1},
 "encoding": {"x": {"field": "i", "type": "quantitative", "title": null}, "y": {"field": "v", "type": "quantitative", "title": null}}},
{"data": {"values": [{"t": "السحابة (Kumo)"}]}, "mark": {"type": "text", "align": "center", "baseline": "middle", "font": "Liberation Sans, DejaVu Sans", "fontSize": 12.5, "fontWeight": "bold", "color": "#F08A3C"},
 "encoding": {"x": {"datum": 35.5}, "y": {"datum": 1.14894}, "text": {"field": "t"}}},
{"data": {"values": [{"t": "خط الاساس (Kijun-sen)"}]}, "mark": {"type": "text", "align": "center", "baseline": "middle", "font": "Liberation Sans, DejaVu Sans", "fontSize": 12.5, "fontWeight": "bold", "color": "#1414D2"},
 "encoding": {"x": {"datum": 35.5}, "y": {"datum": 1.14770}, "text": {"field": "t"}}},
{"data": {"values": [{"t": "خط الانعكاس (Tenkan-sen)"}]}, "mark": {"type": "text", "align": "center", "baseline": "middle", "font": "Liberation Sans, DejaVu Sans", "fontSize": 12.5, "fontWeight": "bold", "color": "#E01414"},
 "encoding": {"x": {"datum": 35}, "y": {"datum": 1.14647}, "text": {"field": "t"}}},
{"data": {"values": [{"t": "الخط المتأخر (Chinkou Span)"}]}, "mark": {"type": "text", "align": "center", "baseline": "middle", "font": "Liberation Sans, DejaVu Sans", "fontSize": 12.5, "fontWeight": "bold", "color": "#66DD66"},
 "encoding": {"x": {"datum": 33}, "y": {"datum": 1.14523}, "text": {"field": "t"}}},
{"data": {"values": [{"t": "Activate Windows"}]}, "mark": {"type": "text", "align": "left", "baseline": "middle", "font": "Liberation Sans", "fontSize": 12, "color": "#bbbbbb", "opacity": 0.6},
 "encoding": {"x": {"datum": 128.5}, "y": {"datum": 1.14312}, "text": {"field": "t"}}}
]
}
